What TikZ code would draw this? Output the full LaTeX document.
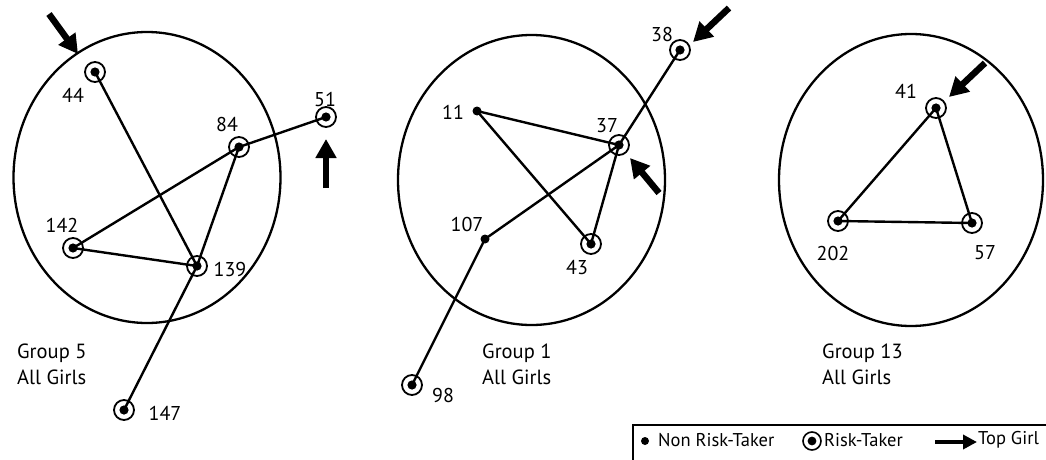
\documentclass[tikz,border=0pt]{standalone}
\usepackage{fontspec}
\setmainfont{PT Sans}
\usetikzlibrary{arrows.meta}
\begin{document}
\begin{tikzpicture}[x=1pt,y=-1pt,
  risk/.style={circle,draw,line width=1.8pt,minimum size=20pt,inner sep=0pt,
    path picture={\fill (path picture bounding box.center) circle (4.6pt);}},
  nonrisk/.style={circle,fill,minimum size=9pt,inner sep=0pt},
  lbl/.style={font=\fontsize{20}{22}\selectfont,inner sep=0pt},
  grp/.style={font=\fontsize{20.5}{26}\selectfont,align=left,anchor=north west,inner sep=0pt},
  edge/.style={line width=2.4pt},
  group/.style={line width=2.3pt},
  top/.style={line width=6.5pt,-{Triangle[length=19pt,width=20pt]}},
  leg/.style={font=\fontsize{18.5}{20}\selectfont,inner sep=0pt,anchor=west}]
\useasboundingbox (0,0) rectangle (1046,460);
\clip (0,0) rectangle (1046,460);
% ---------- Group 5 ----------
\draw[group] (147,177.5) ellipse [x radius=133.5, y radius=145.5];
\node[risk] (n44) at (95,72) {};
\node[risk] (n84) at (239,147) {};
\node[risk] (n51) at (326,117) {};
\node[risk] (n142) at (73,248) {};
\node[risk] (n139) at (197,266) {};
\node[risk] (n147) at (124,410) {};
\draw[edge] (n44.center) -- (n139.center);
\draw[edge] (n84.center) -- (n142.center);
\draw[edge] (n84.center) -- (n139.center);
\draw[edge] (n84.center) -- (n51.center);
\draw[edge] (n142.center) -- (n139.center);
\draw[edge] (n139.center) -- (n147.center);
\node[lbl] (l44) at (73,95) {44};
\node[lbl] (l84) at (227,124) {84};
\node[lbl] (l51) at (325,99) {51};
\node[lbl] (l142) at (62,225) {142};
\node[lbl] (l139) at (230,269) {139};
\node[lbl] (l147) at (165,413) {147};
\node[grp] (g5) at (17,344) {Group 5\\All Girls};
\coordinate (a44s) at (49,14);
\coordinate (a44e) at (78,54);
\draw[top] (a44s) -- (a44e);
\coordinate (a51s) at (326,188);
\coordinate (a51e) at (326,139);
\draw[top] (a51s) -- (a51e);
% ---------- Group 1 ----------
\draw[group] (531.5,180) ellipse [x radius=133.5, y radius=145];
\node[nonrisk] (n11) at (477,111) {};
\node[risk] (n37) at (619,145) {};
\node[risk] (n38) at (680,50) {};
\node[nonrisk] (n107) at (485,239) {};
\node[risk] (n43) at (591,244) {};
\node[risk] (n98) at (412,385) {};
\draw[edge] (n11.center) -- (n37.center);
\draw[edge] (n11.center) -- (n43.center);
\draw[edge] (n37.center) -- (n43.center);
\draw[edge] (n37.center) -- (n38.center);
\draw[edge] (n37.center) -- (n107.center);
\draw[edge] (n107.center) -- (n98.center);
\node[lbl] (l11) at (453,112) {11};
\node[lbl] (l37) at (607,126) {37};
\node[lbl] (l38) at (662,35) {38};
\node[lbl] (l107) at (467,224) {107};
\node[lbl] (l43) at (577,268) {43};
\node[lbl] (l98) at (443,395) {98};
\node[grp] (g1) at (482,344) {Group 1\\All Girls};
\coordinate (a37s) at (659,193);
\coordinate (a37e) at (630,158);
\draw[top] (a37s) -- (a37e);
\coordinate (a38s) at (729,8);
\coordinate (a38e) at (693,42);
\draw[top] (a38s) -- (a38e);
% ---------- Group 13 ----------
\draw[group] (911,180) ellipse [x radius=132, y radius=146];
\node[risk] (n41) at (936,108) {};
\node[risk] (n202) at (838,221) {};
\node[risk] (n57) at (972,223) {};
\draw[edge] (n41.center) -- (n202.center);
\draw[edge] (n41.center) -- (n57.center);
\draw[edge] (n202.center) -- (n57.center);
\node[lbl] (l41) at (906,91) {41};
\node[lbl] (l202) at (833,253) {202};
\node[lbl] (l57) at (985,253) {57};
\node[grp] (g13) at (822,344) {Group 13\\All Girls};
\coordinate (a41s) at (985,63);
\coordinate (a41e) at (949,97);
\draw[top] (a41s) -- (a41e);
% ---------- Legend ----------
\draw[line width=1.8pt] (633,470) -- (633,425) -- (1060,425);
\node[nonrisk,minimum size=8pt] (k1) at (645,441) {};
\node[leg] (kt1) at (658,440) {Non Risk-Taker};
\node[risk,minimum size=18pt,line width=1.6pt,path picture={\fill (path picture bounding box.center) circle (4.4pt);}] (k2) at (812,441) {};
\node[leg] (kt2) at (824,440) {Risk-Taker};
\coordinate (k3s) at (935,442);
\coordinate (k3e) at (977,442);
\draw[line width=3.5pt,-{Triangle[length=14pt,width=14pt]}] (k3s) -- (k3e);
\node[leg] (kt3) at (978,440) {Top Girl};
\end{tikzpicture}
\end{document}
